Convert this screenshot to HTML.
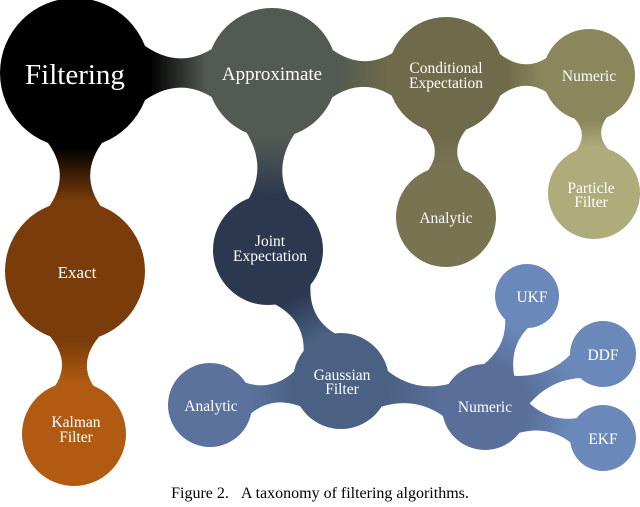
<!DOCTYPE html>
<html><head><meta charset="utf-8"><style>
html,body{margin:0;padding:0;background:#fff;}
svg{display:block;}
text{font-family:"Liberation Serif",serif;fill:#fff;text-anchor:middle;}
</style></head><body>
<svg id="s" width="640" height="507" viewBox="0 0 640 507" xmlns="http://www.w3.org/2000/svg">
<defs id="d"></defs>
<g id="links"></g>
<g id="nodes"></g>
<g id="labels">
<text x="75" y="84" font-size="29">Filtering</text>
<text x="272" y="80" font-size="19">Approximate</text>
<text x="446" y="73" font-size="15.5">Conditional</text>
<text x="446" y="88" font-size="15.5">Expectation</text>
<text x="589" y="81" font-size="15.5">Numeric</text>
<text x="591" y="193" font-size="15.5">Particle</text>
<text x="591" y="207" font-size="15.5">Filter</text>
<text x="446" y="223" font-size="15.5">Analytic</text>
<text x="270" y="246" font-size="15.5">Joint</text>
<text x="270" y="261" font-size="15.5">Expectation</text>
<text x="77" y="278" font-size="17">Exact</text>
<text x="76" y="427" font-size="15.5">Kalman</text>
<text x="76" y="442" font-size="15.5">Filter</text>
<text x="342" y="380" font-size="15.5">Gaussian</text>
<text x="342" y="394" font-size="15.5">Filter</text>
<text x="211" y="411" font-size="15.5">Analytic</text>
<text x="485" y="412" font-size="15.5">Numeric</text>
<text x="532" y="302" font-size="15.5">UKF</text>
<text x="603" y="360" font-size="15.5">DDF</text>
<text x="603" y="444" font-size="15.5">EKF</text>
<text x="320" y="498" font-size="16" style="fill:#000">Figure 2. &#160;&#160;A taxonomy of filtering algorithms.</text>
</g>
</svg>
<script>
var N={
F:[75,73,75,'#000000'],
A:[272,73,65,'#535a53'],
C:[446,75,58,'#6e6a4a'],
Nt:[589,75,46,'#8a875c'],
P:[594,193,46,'#aeac7a'],
An:[446,217,50,'#787350'],
J:[268,250,55,'#2c3850'],
E:[75,271,70,'#7a3c0a'],
K:[74,434,52,'#b05a12'],
G:[341,381,48,'#4b6184'],
Ab:[210,405,42,'#5a729c'],
Nb:[485,407,43,'#596f9a'],
U:[527,296,32,'#6a89ba'],
D:[603,354,33,'#6a89ba'],
X:[603,438,33,'#6a89ba']};
var L=[['F','A'],['A','C'],['C','Nt'],['Nt','P'],['C','An'],['A','J'],['F','E'],['E','K'],['J','G'],['G','Ab'],['G','Nb'],['Nb','U'],['Nb','D'],['Nb','X']];
var ns='http://www.w3.org/2000/svg',d=document.getElementById('d'),lg=document.getElementById('links'),ng=document.getElementById('nodes');
L.forEach(function(l,i){
var a=N[l[0]],b=N[l[1]];
var dx=b[0]-a[0],dy=b[1]-a[1],len=Math.hypot(dx,dy),ux=dx/len,uy=dy/len,nx=-uy,ny=ux;
var g=document.createElementNS(ns,'linearGradient');g.setAttribute('id','g'+i);g.setAttribute('gradientUnits','userSpaceOnUse');
g.setAttribute('x1',a[0]+ux*a[2]);g.setAttribute('y1',a[1]+uy*a[2]);g.setAttribute('x2',b[0]-ux*b[2]);g.setAttribute('y2',b[1]-uy*b[2]);
g.innerHTML='<stop offset="0" stop-color="'+a[3]+'"/><stop offset="1" stop-color="'+b[3]+'"/>';d.appendChild(g);
var wa=a[2]*0.4,wb=b[2]*0.4;
var pa=a[2]*0.88,pb=b[2]*0.88;
var A1=[a[0]+ux*pa+nx*wa,a[1]+uy*pa+ny*wa],A2=[a[0]+ux*pa-nx*wa,a[1]+uy*pa-ny*wa];
var B1=[b[0]-ux*pb+nx*wb,b[1]-uy*pb+ny*wb],B2=[b[0]-ux*pb-nx*wb,b[1]-uy*pb-ny*wb];
var s=(a[2]+(len-a[2]-b[2])/2)/len;var mx=a[0]+dx*s,my=a[1]+dy*s;
var w=Math.min(a[2],b[2])*0.02;
var p='M'+A1+' Q'+(mx+nx*w)+','+(my+ny*w)+' '+B1+' L'+B2+' Q'+(mx-nx*w)+','+(my-ny*w)+' '+A2+' Z';
var e=document.createElementNS(ns,'path');e.setAttribute('d',p);e.setAttribute('fill','url(#g'+i+')');lg.appendChild(e);
});
for(var k in N){var c=document.createElementNS(ns,'circle'),v=N[k];c.setAttribute('cx',v[0]);c.setAttribute('cy',v[1]);c.setAttribute('r',v[2]);c.setAttribute('fill',v[3]);ng.appendChild(c);}
</script>
</body></html>
